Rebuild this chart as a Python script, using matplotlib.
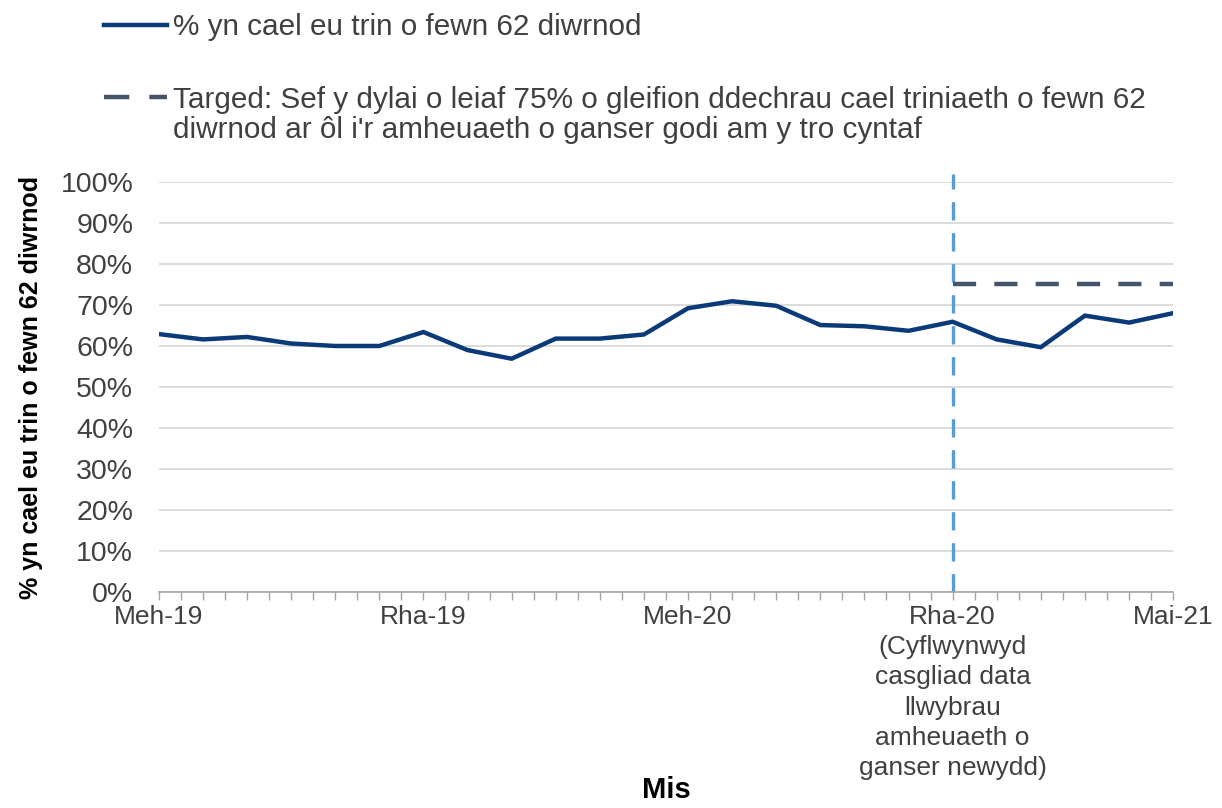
import matplotlib
matplotlib.use("Agg")
import matplotlib.pyplot as plt
from matplotlib.lines import Line2D

plt.rcParams['font.family'] = ['Liberation Sans', 'DejaVu Sans']

# Monthly data, Jun 2019 - May 2021
months = ["Meh-19", "Gor-19", "Aws-19", "Med-19", "Hyd-19", "Tac-19",
          "Rha-19", "Ion-20", "Chw-20", "Maw-20", "Ebr-20", "Mai-20",
          "Meh-20", "Gor-20", "Aws-20", "Med-20", "Hyd-20", "Tac-20",
          "Rha-20", "Ion-21", "Chw-21", "Maw-21", "Ebr-21", "Mai-21"]
pct_62_days = [62.9, 61.6, 62.2, 60.6, 60.0, 60.0, 63.4, 59.0, 56.9, 61.8, 61.8, 62.8,
               69.2, 70.9, 69.8, 65.1, 64.8, 63.7, 65.9, 61.6, 59.7, 67.4, 65.7, 68.0]
target = 75
target_start = "Rha-20"
shown_labels = {
    "Meh-19": "Meh-19",
    "Rha-19": "Rha-19",
    "Meh-20": "Meh-20",
    "Rha-20": "Rha-20\n(Cyflwynwyd\ncasgliad data\nllwybrau\namheuaeth o\nganser newydd)",
    "Mai-21": "Mai-21",
}
legend_main = "% yn cael eu trin o fewn 62 diwrnod"
legend_target = ["Targed: Sef y dylai o leiaf 75% o gleifion ddechrau cael triniaeth o fewn 62",
                 "diwrnod ar ôl i'r amheuaeth o ganser godi am y tro cyntaf"]

text_col = "#404040"
line_col = "#0B3A78"
target_col = "#44546A"
vline_col = "#5B9BD5"
fs = 19
leg_fs = 21.4

fig = plt.figure(figsize=(12.22, 8.08), dpi=100)
ax = fig.add_axes([0.130, 0.267, 0.830, 0.508])

x = list(range(len(months)))
ax.plot(x, pct_62_days, color=line_col, lw=3.2, solid_joinstyle='miter', zorder=3)

i0 = months.index(target_start)
tx = x[i0:]
ax.plot(tx, [target] * len(tx), color=target_col, lw=3.2, dashes=(5.2, 4.1), zorder=3)
ax.axvline(i0, ymin=0, ymax=1.02, color=vline_col, lw=2.4, dashes=(5.5, 3.8),
           clip_on=False, zorder=2)

ax.set_xlim(0, len(months) - 1)
ax.set_ylim(0, 100)
ax.set_yticks(range(0, 101, 10))
ax.set_yticklabels([f"{v}%" for v in range(0, 101, 10)])
ax.yaxis.grid(True, color="#D9D9D9", lw=1.3)
ax.set_axisbelow(True)

major = [months.index(m) for m in shown_labels]
ax.set_xticks(major)
ax.set_xticklabels(list(shown_labels.values()), linespacing=1.33)
ax.set_xticks([v / 2 for v in range(0, 2 * (len(months) - 1) + 1)], minor=True)
ax.tick_params(axis='x', which='both', direction='out', length=6, width=1,
               color="#A6A6A6", labelsize=fs, labelcolor=text_col, pad=3)
ax.tick_params(axis='y', length=0, labelsize=20.5, labelcolor=text_col, pad=18.5)

for s in ["top", "right", "left"]:
    ax.spines[s].set_visible(False)
ax.spines["bottom"].set_color("#A6A6A6")
ax.spines["bottom"].set_linewidth(1.2)

ax.set_ylabel("% yn cael eu trin o fewn 62 diwrnod", fontsize=18, fontweight='bold',
              color="black")
ax.yaxis.set_label_coords(-0.114, 0.5)
ax.set_xlabel("Mis", fontsize=21, fontweight='bold', color="black")
ax.xaxis.set_label_coords(0.5, -0.448)

handles = [Line2D([], [], color=line_col, lw=3.2),
           Line2D([], [], color=target_col, lw=3.2, dashes=(5.7, 4.5))]
leg = fig.legend(handles, [legend_main, legend_target[0]], loc='upper left',
                 bbox_to_anchor=(0.063, 1.017), frameon=False, fontsize=leg_fs,
                 handlelength=2.12, handletextpad=0.22, labelspacing=1.5,
                 labelcolor=text_col)

# second line of the target entry, placed under its first line
fig.canvas.draw()
t = leg.get_texts()[1]
bx, by = t.get_transform().transform(t.get_position())
fx, fy = fig.transFigure.inverted().transform((bx, by - 30))
fig.text(fx, fy, legend_target[1], fontsize=leg_fs, color=text_col, va='baseline', ha='left')

fig.savefig("out.png", dpi=100)
